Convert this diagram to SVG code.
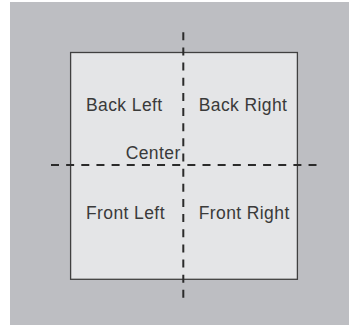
<svg xmlns="http://www.w3.org/2000/svg" width="349" height="325" viewBox="0 0 349 325">
  <style>
    .lbl { font-family: "Liberation Sans", Arial, sans-serif; font-size: 17.5px; fill: #3a3a3a; letter-spacing: 0.4px; }
    .axis { stroke: #2b2b2b; stroke-width: 2; fill: none; stroke-dasharray: 8 7.15; }
  </style>
  <rect x="0" y="0" width="349" height="325" fill="#ffffff"/>
  <rect id="background" x="10" y="2" width="339" height="323" fill="#bdbec2"/>
  <g id="stage">
    <rect x="70.6" y="52.5" width="226.8" height="226.8" fill="#e4e5e7" stroke="#404040" stroke-width="1.3"/>
  </g>
  <g id="axes">
    <line class="axis" x1="183.3" y1="32.3" x2="183.3" y2="298"/>
    <line class="axis" x1="51" y1="165" x2="316.5" y2="165"/>
  </g>
  <g id="back-left"><text class="lbl" x="86" y="111">Back Left</text></g>
  <g id="back-right"><text class="lbl" x="198.7" y="111">Back Right</text></g>
  <g id="center"><text class="lbl" x="125.7" y="159.3">Center</text></g>
  <g id="front-left"><text class="lbl" x="86" y="219.3">Front Left</text></g>
  <g id="front-right"><text class="lbl" x="198.7" y="219.3">Front Right</text></g>
</svg>
